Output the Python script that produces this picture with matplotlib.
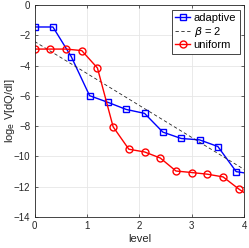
import numpy as np
import matplotlib
matplotlib.use("Agg")
import matplotlib.pyplot as plt

plt.rcParams['font.family'] = ['Liberation Sans', 'DejaVu Sans']

# adaptive refinement
x_adapt = [0, 0.35, 0.70, 1.05, 1.40, 1.75, 2.10, 2.45, 2.80, 3.15, 3.50, 3.85, 4.20]
y_adapt = [-1.44, -1.44, -3.4, -5.98, -6.42, -6.89, -7.15, -8.39, -8.81, -8.9, -9.34, -11.0, -11.19]

# uniform refinement
x_unif = [0, 0.3, 0.6, 0.9, 1.2, 1.5, 1.8, 2.1, 2.4, 2.7, 3.0, 3.3, 3.6, 3.9, 4.2]
y_unif = [-2.9, -2.9, -2.9, -3.0, -4.15, -8.04, -9.52, -9.7, -10.1, -10.96, -11.06, -11.17,
          -11.35, -12.15, -12.85]

# reference slope
x_ref = [0, 4]
y_ref = [-2.4, -10.85]

fig = plt.figure(figsize=(2.49, 2.48), dpi=100)
ax = fig.add_axes([0.139, 0.125, 0.841, 0.854])

ax.plot(x_adapt, y_adapt, 's-', color='b', lw=1.0, ms=4, mfc='none', mew=1.0, label='adaptive')
ax.plot(x_ref, y_ref, '--', color='0.15', lw=0.6, dashes=(4, 3), label=r'$\beta$ = 2')
ax.plot(x_unif, y_unif, 'o-', color='r', lw=1.0, ms=5, mfc='none', mew=1.0, label='uniform')

ax.set_xlim(0, 4)
ax.set_ylim(-14, 0)
ax.set_xticks([0, 1, 2, 3, 4])
ax.set_yticks(np.arange(-14, 1, 2))
ax.grid(True, color='0.9', lw=0.6)
ax.set_axisbelow(True)
ax.tick_params(direction='in', labelsize=7, colors='0.15', length=2, width=0.5,
               top=True, right=True, pad=3)
for s in ax.spines.values():
    s.set_color('0.15')
    s.set_linewidth(0.6)

ax.set_xlabel('level', fontsize=8, color='0.15', labelpad=2)
ax.set_ylabel(r'log$_{\rm e}$ V[dQ/dl]', fontsize=8, color='0.15')
ax.yaxis.set_label_coords(-0.085, 0.5)

leg = ax.legend(loc='upper right', fontsize=8, handlelength=1.4, handletextpad=0.3,
                borderpad=0.3, labelspacing=0.15, fancybox=False, framealpha=1,
                borderaxespad=0.4)
leg.get_frame().set_edgecolor('0.15')
leg.get_frame().set_linewidth(0.6)

fig.savefig('out.png', dpi=100)
